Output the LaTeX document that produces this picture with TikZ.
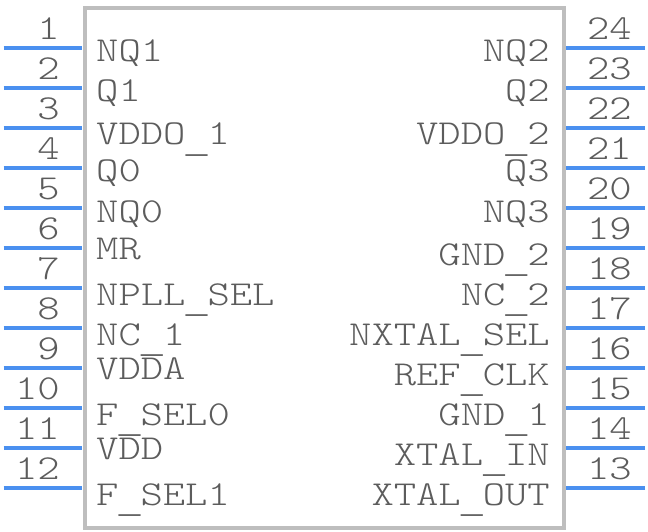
\documentclass[tikz,border=0pt]{standalone}
\usepackage{fontspec}
\setmainfont[FakeStretch=1.215]{Latin Modern Mono Light}
\newfontfamily\barfont{Liberation Mono}
\definecolor{pinblue}{HTML}{4A90F0}
\definecolor{bodygrey}{HTML}{BEBEBE}
\definecolor{txtgrey}{HTML}{5C5C5C}
\newcommand{\lowbar}{\raisebox{-7.5pt}{\fontsize{36.7}{36.7}\barfont\_}}
\tikzset{x=1pt,y=-1pt,
 pinline/.style={draw=pinblue,line width=4pt},
 bodybox/.style={draw=bodygrey,line width=4pt},
 lab/.style={text=txtgrey,font=\fontsize{35}{35}\selectfont,inner sep=0pt},
 pinnum/.style={lab,anchor=base east},
 ll/.style={lab,anchor=base west},
 rl/.style={lab,anchor=base east}}
\begin{document}
\begin{tikzpicture}
\useasboundingbox (0,0) rectangle (648,532);
\fill[white] (0,0) rectangle (648,532);
\coordinate (tl) at (84.5,8.5);
\coordinate (br) at (563.7,527.5);
\draw[bodybox] (tl) rectangle (br);
\foreach \i/\n in {0/1,1/2,2/3,3/4,4/5,5/6,6/7,7/8,8/9,9/10,10/11,11/12}{
 \coordinate (a\n) at (3.5,{48+40*\i});
 \coordinate (b\n) at (82,{48+40*\i});
 \draw[pinline] (a\n) -- (b\n);
 \node[pinnum] (pn\n) at (60,{39.5+40*\i}) {\n};
}
\foreach \i/\n in {0/24,1/23,2/22,3/21,4/20,5/19,6/18,7/17,8/16,9/15,10/14,11/13}{
 \coordinate (a\n) at (645,{48+40*\i});
 \coordinate (b\n) at (566,{48+40*\i});
 \draw[pinline] (a\n) -- (b\n);
 \node[pinnum] (pn\n) at (632,{39.5+40*\i}) {\n};
}
\foreach \t/\y/\nm in {NQ1/62/a,Q1/102/b,VDDO\lowbar 1/145/c,Q0/182/d,NQ0/222/e,MR/259/f,NPLL\lowbar SEL/305/g,NC\lowbar 1/345/h,VDDA/379/i,F\lowbar SEL0/425/j,VDD/459/k,F\lowbar SEL1/505/l}
 \node[ll] (l\nm) at (96,\y) {\t};
\foreach \t/\y/\nm in {NQ2/62/a,Q2/102/b,VDDO\lowbar 2/145/c,Q3/182/d,NQ3/222/e,GND\lowbar 2/265/f,NC\lowbar 2/305/g,NXTAL\lowbar SEL/345/h,REF\lowbar CLK/385/i,GND\lowbar 1/425/j,XTAL\lowbar IN/465/k,XTAL\lowbar OUT/505/l}
 \node[rl] (r\nm) at (550,\y) {\t};
\end{tikzpicture}
\end{document}
